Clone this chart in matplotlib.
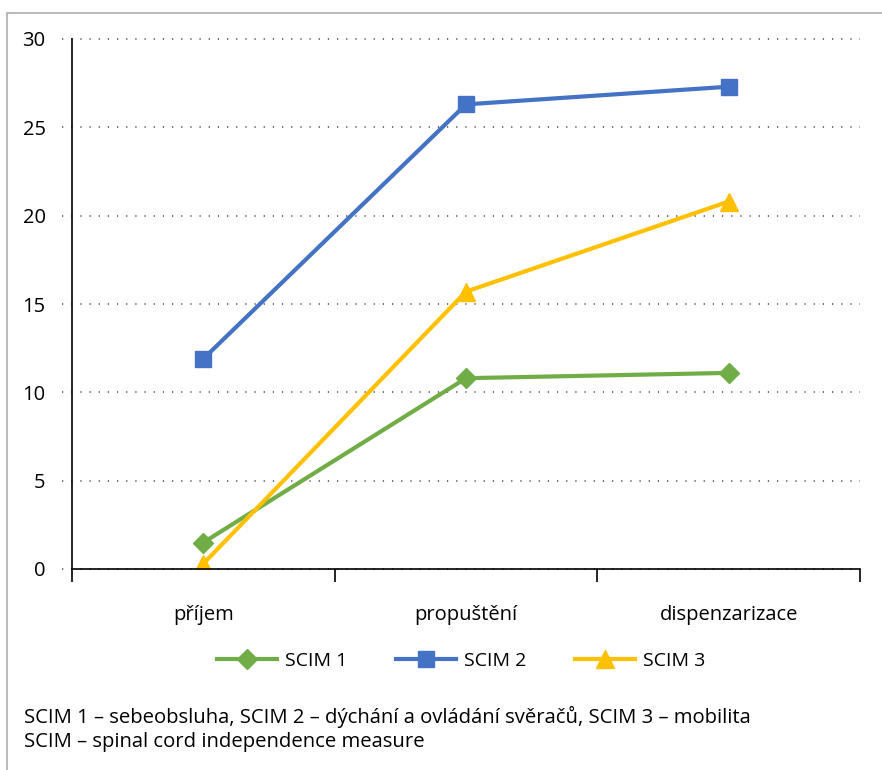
import matplotlib.pyplot as plt
from matplotlib.lines import Line2D

# Data
categories = ['příjem', 'propuštění', 'dispenzarizace']
scim1 = [1.5, 10.8, 11.1]
scim2 = [11.9, 26.3, 27.3]
scim3 = [0.3, 15.7, 20.8]
series_names = ['SCIM 1', 'SCIM 2', 'SCIM 3']
yticks = [0, 5, 10, 15, 20, 25, 30]

plt.rcParams['font.family'] = ['Open Sans', 'DejaVu Sans']

fig = plt.figure(figsize=(8.82, 7.70), dpi=100)
ax = fig.add_axes([72 / 882, 1 - 569 / 770, 788 / 882, 530 / 770])

x = list(range(len(categories)))
ax.plot(x, scim1, color='#70AD47', lw=3, marker='D', ms=10.5, label=series_names[0])
ax.plot(x, scim2, color='#4472C4', lw=3, marker='s', ms=12, label=series_names[1])
ax.plot(x, scim3, color='#FFC000', lw=3, marker='^', ms=13.5, label=series_names[2])

ax.set_xlim(-0.5, 2.5)
ax.set_ylim(0, 30)

# dotted gridlines, running a little past the left spine
for y in yticks:
    ax.plot([-10 / 788, 1], [y, y], transform=ax.get_yaxis_transform(),
            color='#444444', lw=1.1, ls=(0, (0.8, 5.2)), clip_on=False, zorder=0)

ax.set_yticks(yticks)
ax.tick_params(axis='y', length=0, pad=19, labelsize=14.5)
ax.set_xticks(x)
ax.set_xticklabels(categories)
ax.tick_params(axis='x', which='major', length=0, pad=26, labelsize=14.5)
ax.set_xticks([-0.5, 0.5, 1.5, 2.5], minor=True)
ax.tick_params(axis='x', which='minor', length=9, width=1.2, direction='out')

for side in ['top', 'right']:
    ax.spines[side].set_visible(False)
for side in ['left', 'bottom']:
    ax.spines[side].set_linewidth(1.2)

fig.legend(loc='center', bbox_to_anchor=(461 / 882, 1 - 661 / 770), ncol=3,
           frameon=False, fontsize=14, handlelength=3.1, columnspacing=2.5,
           handletextpad=0.4)

fig.text(24 / 882, 1 - 717 / 770, 'SCIM 1 – sebeobsluha, SCIM 2 – dýchání a ovládání svěračů, SCIM 3 – mobilita',
         fontsize=14.6, va='center', ha='left')
fig.text(24 / 882, 1 - 742 / 770, 'SCIM – spinal cord independence measure',
         fontsize=14.6, va='center', ha='left')

# frame along top and left edges
fig.add_artist(Line2D([7 / 882, 1], [1 - 13 / 770, 1 - 13 / 770], color='#BBBBBB', lw=1.5))
fig.add_artist(Line2D([7 / 882, 7 / 882], [0, 1 - 13 / 770], color='#BBBBBB', lw=1.5))

fig.savefig('out.png', dpi=100)
